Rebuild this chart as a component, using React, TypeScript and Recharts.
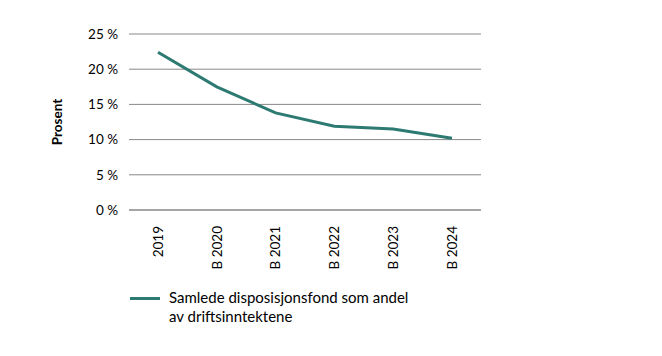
import { LineChart, Line, XAxis, YAxis, CartesianGrid, Legend } from 'recharts';

const years = ['2019', 'B 2020', 'B 2021', 'B 2022', 'B 2023', 'B 2024'];
const andel = [22.4, 17.5, 13.8, 11.9, 11.5, 10.2];
const yTicks = [0, 5, 10, 15, 20, 25];
const seriesName = 'Samlede disposisjonsfond som andel av driftsinntektene';

const data = years.map((year, i) => ({ year, andel: andel[i] }));

const FONT = 'Lato, "Open Sans", sans-serif';
const TEAL = '#2c7a72';

function YearTick(props: any) {
  const { x, y, payload } = props;
  return (
    <g transform={`translate(${x},${y})`}>
      <text transform="rotate(-90)" textAnchor="end" dy="0.35em" fontSize={13.5} fill="#000" fontFamily={FONT}>
        {payload.value}
      </text>
    </g>
  );
}

function LegendBox() {
  return (
    <div style={{ display: 'flex', alignItems: 'flex-start', fontFamily: FONT, fontSize: 15, color: '#000', paddingLeft: 61 }}>
      <div style={{ width: 30, height: 3, background: TEAL, marginTop: 9, marginRight: 9 }} />
      <div style={{ lineHeight: '19px', width: 290 }}>
        Samlede disposisjonsfond som andel
        <br />
        av driftsinntektene
      </div>
    </div>
  );
}

export default function App() {
  return (
    <LineChart width={646} height={340} data={data} margin={{ top: 26, right: 173, bottom: 10, left: 61 }}>
      <CartesianGrid vertical={false} stroke="#888" strokeWidth={1} />
      <XAxis
        dataKey="year"
        height={78}
        tick={<YearTick />}
        tickLine={false}
        axisLine={{ stroke: '#888' }}
        tickSize={6}
        tickMargin={10}
        interval={0}
        padding={{ left: 29, right: 29 }}
      />
      <YAxis
        width={60}
        domain={[0, 25]}
        ticks={yTicks}
        tickFormatter={(v: number) => `${v} %`}
        axisLine={false}
        tickLine={false}
        tickMargin={5}
        tick={{ fontSize: 13.5, fill: '#000', fontFamily: FONT }}
        label={{ value: 'Prosent', angle: -90, position: 'insideLeft', offset: 0, dx: -12, style: { fontSize: 13.5, fontWeight: 'bold', fill: '#000', fontFamily: FONT, textAnchor: 'middle' } }}
      />
      <Legend verticalAlign="bottom" align="left" height={50} content={() => <LegendBox />} />
      <Line
        type="linear"
        dataKey="andel"
        name={seriesName}
        stroke={TEAL}
        strokeWidth={3}
        dot={false}
        isAnimationActive={false}
      />
    </LineChart>
  );
}
